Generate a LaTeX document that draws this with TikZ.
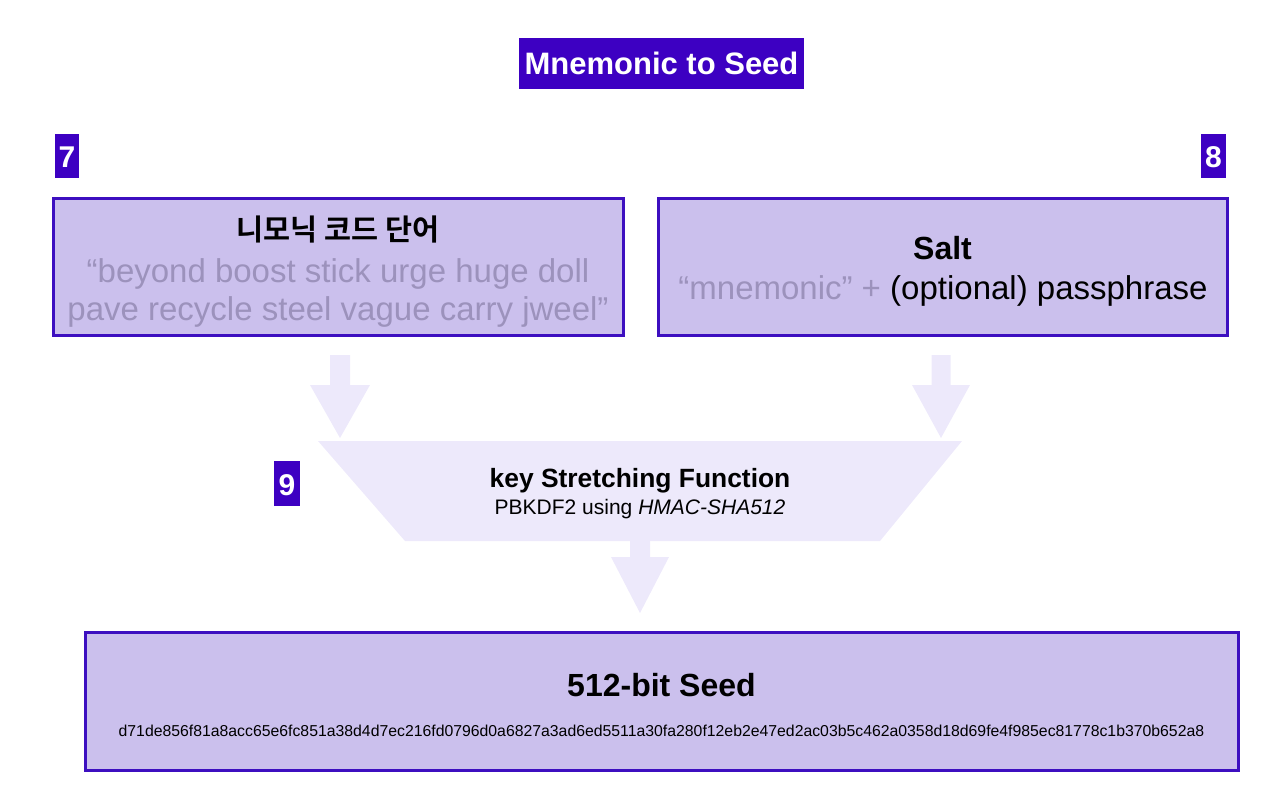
\documentclass[tikz,border=0pt]{standalone}
\usepackage{fontspec}
\setmainfont{Liberation Sans}
\newfontfamily\krfont{Noto Sans CJK KR}[BoldFont={* Bold}]
\usetikzlibrary{calc}
\definecolor{deepviolet}{HTML}{3D00C2}
\definecolor{boxedge}{HTML}{3D0FC0}
\definecolor{boxfill}{HTML}{CBC0ED}
\definecolor{flowfill}{HTML}{EDE9FB}
\definecolor{softtext}{HTML}{9C92BC}
\tikzset{
  panel/.style={draw=boxedge, line width=1.5pt, fill=boxfill, inner sep=0pt},
  badge/.style={fill=deepviolet, text=white, inner sep=0pt, font=\bfseries\fontsize{15}{15}\selectfont},
  txt/.style={inner sep=0pt, anchor=base},
  flow/.style={fill=flowfill, draw=none},
}
% block arrow from (#1) downwards to tip (#2)
\newcommand\blockarrow[5]{%
  \fill[flow] ($(#1)+(-#3,0)$) -- ($(#1)+(#3,0)$) -- ($(#1)+(#3,#5)$) -- ($(#1)+(#4,#5)$)
    -- (#2) -- ($(#1)+(-#4,#5)$) -- ($(#1)+(-#3,#5)$) -- cycle;}
\begin{document}
\begin{tikzpicture}[x=0.5pt,y=-0.5pt]
\useasboundingbox (0,0) rectangle (1274,804);

% title
\node[fill=deepviolet, minimum width=142.5pt, minimum height=25.5pt, inner sep=0pt] (title) at (661.5,63.5) {};
\node[txt, text=white, font=\bfseries\fontsize{15.5}{15.5}\selectfont] (titletext) at (661.5,74) {Mnemonic to Seed};

% step badges
\node[badge, minimum width=12pt, minimum height=22pt] (b7) at (67,156) {};
\node[txt, text=white, font=\bfseries\fontsize{15}{15}\selectfont] (b7t) at (67,167) {7};
\node[badge, minimum width=12.5pt, minimum height=22pt] (b8) at (1213.5,156) {};
\node[txt, text=white, font=\bfseries\fontsize{15}{15}\selectfont] (b8t) at (1213.5,167) {8};
\node[badge, minimum width=13pt, minimum height=22.5pt] (b9) at (287,483.5) {};
\node[txt, text=white, font=\bfseries\fontsize{15}{15}\selectfont] (b9t) at (287,495) {9};

% mnemonic words
\node[panel, minimum width=285pt, minimum height=68.5pt] (words) at (338,266.5) {};
\node[txt, font=\krfont\bfseries\fontsize{14.7}{14.7}\selectfont] (wordshead) at (338,240) {니모닉 코드 단어};
\node[txt, text=softtext, font=\fontsize{16.5}{16.5}\selectfont] (wordsl1) at (338,282) {“beyond boost stick urge huge doll};
\node[txt, text=softtext, font=\fontsize{16.5}{16.5}\selectfont] (wordsl2) at (338,320) {pave recycle steel vague carry jweel”};

% salt
\node[panel, minimum width=284.5pt, minimum height=68.5pt] (salt) at (942.5,266.5) {};
\node[txt, font=\bfseries\fontsize{16}{16}\selectfont] (salthead) at (942.5,259) {Salt};
\node[txt, font=\fontsize{16.5}{16.5}\selectfont] (saltline) at (943,299) {\textcolor{softtext}{“mnemonic” +} (optional) passphrase};

% key stretching function
\coordinate (ktl) at (318,441);
\coordinate (ktr) at (962,441);
\coordinate (kbr) at (880,541);
\coordinate (kbl) at (405,541);
\fill[flow] (ktl) -- (ktr) -- (kbr) -- (kbl) -- cycle;
\node[txt, font=\bfseries\fontsize{13.2}{13.2}\selectfont] (kdfhead) at (640,487) {key Stretching Function};
\node[txt, font=\fontsize{10.5}{10.5}\selectfont] (kdfline) at (640,514) {PBKDF2 using \textit{HMAC-SHA512}};

% seed
\node[panel, minimum width=576.5pt, minimum height=69pt] (seed) at (661.5,701) {};
\node[txt, font=\bfseries\fontsize{16}{16}\selectfont] (seedhead) at (661.5,696) {512-bit Seed};
\node[txt, font=\fontsize{7.9}{7.9}\selectfont] (seedhex) at (661.5,736) {d71de856f81a8acc65e6fc851a38d4d7ec216fd0796d0a6827a3ad6ed5511a30fa280f12eb2e47ed2ac03b5c462a0358d18d69fe4f985ec81778c1b370b652a8};

% flow arrows
\coordinate (aw) at (340,355);
\coordinate (awtip) at (340,438);
\coordinate (as) at (941,355);
\coordinate (astip) at (941,438);
\coordinate (ak) at (640,540);
\coordinate (aktip) at (640,613);
\blockarrow{aw}{awtip}{10}{30}{30}
\blockarrow{as}{astip}{9.5}{29}{30}
\blockarrow{ak}{aktip}{10}{29}{17}
\end{tikzpicture}
\end{document}
